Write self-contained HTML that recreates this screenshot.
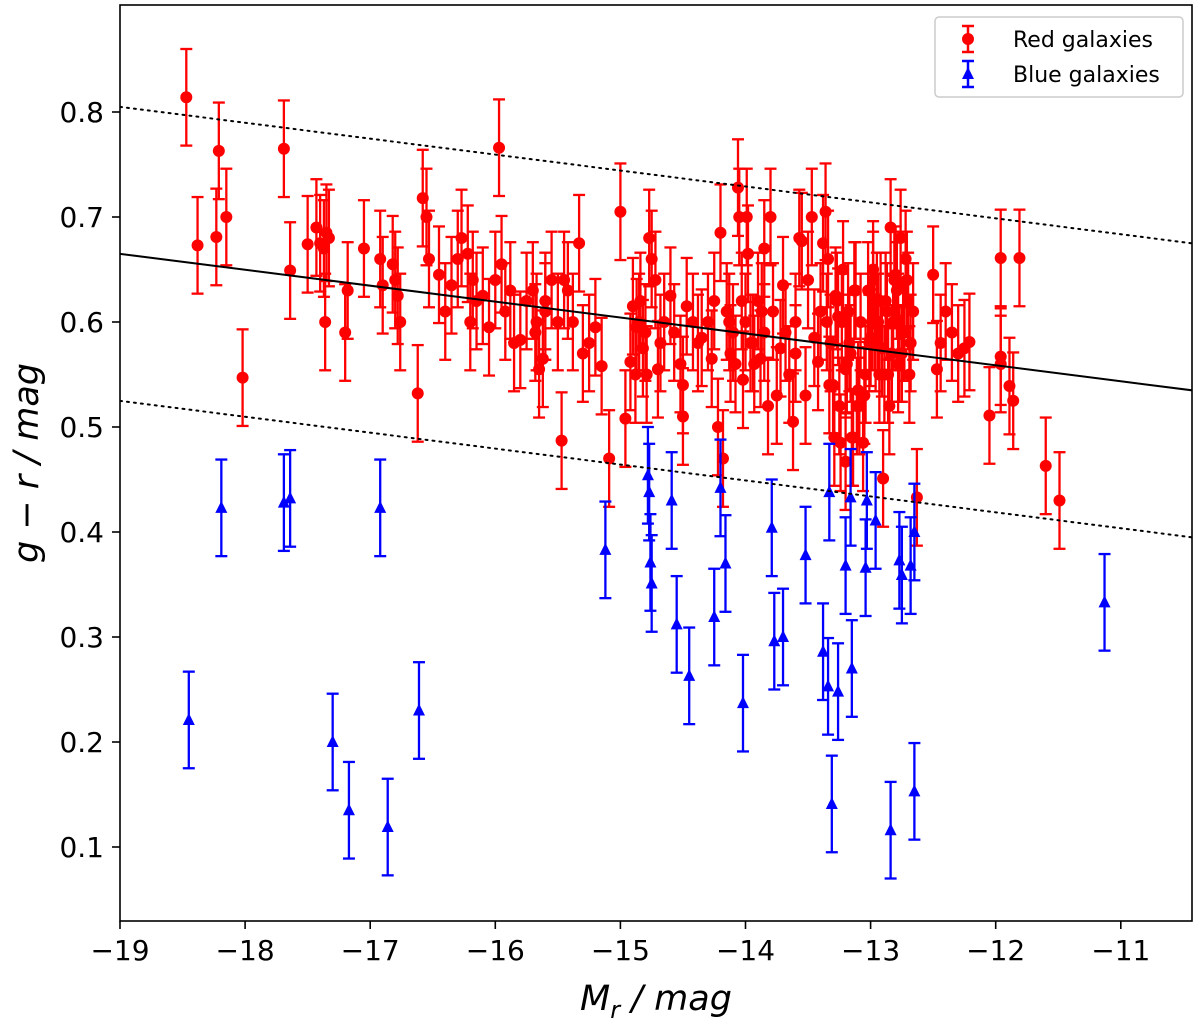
<!DOCTYPE html>
<html><head><meta charset="utf-8">
<style>
html,body{margin:0;padding:0;background:#fff;}
svg{display:block;font-family:"DejaVu Sans","Liberation Sans",sans-serif;}
</style></head>
<body>
<svg id="chart" width="1200" height="1021" viewBox="0 0 1200 1021" xmlns="http://www.w3.org/2000/svg">
<defs><clipPath id="clip"><rect x="120" y="5" width="1072" height="916"/></clipPath></defs>
<g id="marks" clip-path="url(#clip)"></g>
<rect x="120" y="5" width="1072" height="916" fill="none" stroke="#000" stroke-width="1.6"/>
<g id="axes"></g>
<text x="656" y="1010" font-size="35" text-anchor="middle" font-style="italic">M<tspan font-size="24" dy="8">r</tspan><tspan dy="-8"> / mag</tspan></text>
<text transform="translate(38,463) rotate(-90)" font-size="35" text-anchor="middle" font-style="italic">g − r / mag</text>
<g>
<rect x="935" y="17" width="248" height="80" rx="4" fill="#fff" stroke="#ccc" stroke-width="1.5"/>
<g>
<line x1="968" y1="26" x2="968" y2="52" stroke="red" stroke-width="2.5"/>
<line x1="962" y1="26" x2="974" y2="26" stroke="red" stroke-width="2.5"/>
<line x1="962" y1="52" x2="974" y2="52" stroke="red" stroke-width="2.5"/>
<circle cx="968" cy="39" r="6" fill="red"/>
<text x="1013" y="47" font-size="22">Red galaxies</text></g>
<g>
<line x1="968" y1="61" x2="968" y2="87" stroke="blue" stroke-width="2.5"/>
<line x1="962" y1="61" x2="974" y2="61" stroke="blue" stroke-width="2.5"/>
<line x1="962" y1="87" x2="974" y2="87" stroke="blue" stroke-width="2.5"/>
<polygon points="968,67 974,79 962,79" fill="blue"/>
<text x="1013" y="82" font-size="22">Blue galaxies</text></g>
</g>
</svg>
<script>
const xTicks=[-19,-18,-17,-16,-15,-14,-13,-12,-11];
const yTicks=[0.1,0.2,0.3,0.4,0.5,0.6,0.7,0.8];
const fitIntercept=0.3767, fitSlope=-0.01517, band=0.14;
const blueX=[-18.45,-18.19,-17.69,-17.64,-17.30,-17.17,-16.92,-16.86,-16.61,-15.12,-14.78,-14.77,-14.76,-14.75,-14.59,-14.55,-14.45,-14.25,-14.20,-14.16,-14.02,-13.79,-13.77,-13.70,-13.52,-13.38,-13.34,-13.33,-13.31,-13.26,-13.20,-13.16,-13.15,-13.04,-13.03,-12.96,-12.84,-12.77,-12.75,-12.68,-12.65,-12.65,-11.13];
const blueY=[0.221,0.423,0.428,0.432,0.200,0.135,0.423,0.119,0.230,0.383,0.454,0.438,0.371,0.351,0.430,0.312,0.263,0.319,0.442,0.370,0.237,0.404,0.296,0.300,0.378,0.286,0.253,0.438,0.141,0.248,0.368,0.433,0.270,0.366,0.430,0.411,0.116,0.373,0.359,0.368,0.400,0.153,0.333];
const redX=[-18.47,-18.38,-18.23,-18.21,-18.15,-18.02,-17.69,-17.64,-17.5,-17.43,-17.4,-17.37,-17.35,-17.33,-17.2,-17.18,-17.05,-16.92,-16.9,-16.82,-16.8,-16.78,-16.76,-16.62,-16.58,-16.55,-16.53,-16.45,-16.35,-16.3,-16.27,-16.22,-16.18,-16.15,-16.1,-16.0,-15.97,-15.95,-15.92,-15.88,-15.8,-15.75,-15.7,-15.67,-15.65,-15.62,-15.6,-15.55,-15.5,-15.47,-15.42,-15.38,-15.33,-15.3,-15.25,-15.2,-15.15,-15.09,-15.0,-14.96,-14.92,-14.9,-14.87,-14.85,-14.82,-14.8,-14.77,-14.72,-14.7,-14.68,-14.65,-14.6,-14.57,-14.52,-14.5,-14.47,-14.42,-14.38,-14.35,-14.3,-14.27,-14.25,-14.22,-14.2,-14.18,-14.15,-14.12,-14.1,-14.06,-14.05,-14.02,-14.0,-13.98,-13.96,-13.93,-13.9,-13.88,-13.85,-13.82,-13.8,-13.78,-13.75,-13.72,-13.7,-13.68,-13.65,-13.62,-13.6,-13.57,-13.55,-13.52,-13.5,-13.47,-13.45,-13.42,-13.4,-13.38,-13.36,-13.34,-13.32,-13.3,-13.28,-13.26,-13.24,-13.22,-13.2,-13.18,-13.16,-13.14,-13.12,-13.1,-13.08,-13.06,-13.04,-13.02,-13.0,-12.98,-12.96,-12.94,-12.92,-12.91,-12.9,-12.88,-12.86,-12.84,-12.82,-12.8,-12.78,-12.76,-12.74,-12.72,-12.7,-12.69,-12.68,-12.66,-12.63,-12.5,-12.47,-12.44,-12.4,-12.35,-12.3,-12.25,-12.21,-12.05,-11.96,-11.96,-11.96,-11.89,-11.86,-11.81,-11.6,-11.49,-13.2,-13.15,-13.05,-12.95,-12.85,-12.75,-13.85,-14.5,-15.45,-16.2,-16.05,-14.75,-13.6,-12.98,-12.78,-13.25,
-13.33,-13.29,-13.23,-13.19,-13.13,-13.09,-13.01,-12.97,-12.93,-12.87,-12.83,-12.79,-12.73,-12.71,-13.35,-13.27,-13.17,-13.11,-12.99,-12.89,-12.81,-12.77,-14.03,-13.99,-13.94,-13.87,-14.08,-14.13,-14.84,-14.79,-14.88,-15.6,-15.68,-15.85,-16.4,-17.36];
const redY=[0.814,0.673,0.681,0.763,0.700,0.547,0.765,0.649,0.674,0.690,0.675,0.67,0.685,0.68,0.59,0.63,0.67,0.66,0.635,0.655,0.64,0.625,0.60,0.532,0.718,0.70,0.66,0.645,0.635,0.66,0.68,0.665,0.64,0.62,0.625,0.64,0.766,0.655,0.61,0.63,0.583,0.62,0.63,0.60,0.555,0.565,0.62,0.64,0.60,0.487,0.63,0.60,0.675,0.57,0.58,0.595,0.558,0.470,0.705,0.508,0.562,0.615,0.595,0.60,0.575,0.59,0.68,0.64,0.555,0.58,0.6,0.625,0.59,0.56,0.54,0.615,0.6,0.58,0.585,0.60,0.565,0.62,0.50,0.685,0.47,0.61,0.57,0.59,0.728,0.70,0.545,0.6,0.665,0.58,0.56,0.62,0.565,0.59,0.52,0.70,0.61,0.53,0.575,0.635,0.59,0.55,0.505,0.6,0.68,0.677,0.53,0.64,0.70,0.585,0.562,0.61,0.675,0.705,0.66,0.58,0.54,0.625,0.605,0.485,0.65,0.555,0.61,0.57,0.49,0.63,0.535,0.60,0.485,0.55,0.63,0.585,0.64,0.58,0.6,0.62,0.575,0.451,0.62,0.55,0.69,0.60,0.645,0.56,0.68,0.59,0.66,0.62,0.55,0.58,0.61,0.433,0.645,0.555,0.58,0.61,0.59,0.57,0.575,0.581,0.511,0.661,0.560,0.567,0.539,0.525,0.661,0.463,0.430,0.467,0.490,0.53,0.62,0.52,0.57,0.67,0.51,0.64,0.60,0.595,0.66,0.57,0.65,0.60,0.52,0.54,0.49,
0.60,0.56,0.63,0.52,0.58,0.60,0.55,0.61,0.57,0.63,0.59,0.64,0.60,0.62,0.58,0.52,0.60,0.55,0.64,0.57,0.62,0.70,0.58,0.61,0.56,0.60,0.62,0.55,0.55,0.61,0.59,0.58,0.61,0.60,0.64,0.67];
const redErr=0.046, blueErr=0.046;

const X0=120,XS=125.1,YB=847,YS=1050;
function sx(v){return X0+(v+19)*XS;}
function sy(v){return YB-(v-0.1)*YS;}
const NS='http://www.w3.org/2000/svg';
function mk(tag,attrs,parent){const e=document.createElementNS(NS,tag);for(const k in attrs)e.setAttribute(k,attrs[k]);parent.appendChild(e);return e;}
const marks=document.getElementById('marks'), axes=document.getElementById('axes');

function errbar(x,y,e,col,g){
  const px=sx(x);
  mk('line',{x1:px,y1:sy(y-e),x2:px,y2:sy(y+e),stroke:col,'stroke-width':2.3},g);
  mk('line',{x1:px-6,y1:sy(y-e),x2:px+6,y2:sy(y-e),stroke:col,'stroke-width':2.3},g);
  mk('line',{x1:px-6,y1:sy(y+e),x2:px+6,y2:sy(y+e),stroke:col,'stroke-width':2.3},g);
}
redX.forEach((x,i)=>{
  const g=mk('g',{},marks);
  
  
  errbar(x,redY[i],redErr,'red',g);
  mk('circle',{cx:sx(x),cy:sy(redY[i]),r:6,fill:'red'},g);
});
blueX.forEach((x,i)=>{
  const g=mk('g',{},marks);
  
  
  errbar(x,blueY[i],blueErr,'blue',g);
  const px=sx(x),py=sy(blueY[i]);
  mk('polygon',{points:`${px},${py-7} ${px+6},${py+5} ${px-6},${py+5}`,fill:'blue'},g);
});
[[0,'fit-line',''],[band,'upper-dotted-line','2,5'],[-band,'lower-dotted-line','2,5']].forEach(([off,name,dash])=>{
  const l=mk('line',{x1:sx(-19),y1:sy(fitIntercept+fitSlope*-19+off),x2:sx(-10.4),y2:sy(fitIntercept+fitSlope*-10.4+off),stroke:'#000','stroke-width':2,'stroke-dasharray':dash,'stroke-linecap':'round'},marks);
  
  
});
xTicks.forEach(t=>{
  const px=sx(t);
  mk('line',{x1:px,y1:921,x2:px,y2:929,stroke:'#000','stroke-width':1.6},axes);
  const tx=mk('text',{x:px,y:960,'font-size':28,'text-anchor':'middle'},axes);
  tx.textContent=(t<0?'−':'')+Math.abs(t);
  
  
});
yTicks.forEach(t=>{
  const py=sy(t);
  mk('line',{x1:112,y1:py,x2:120,y2:py,stroke:'#000','stroke-width':1.6},axes);
  const tx=mk('text',{x:104,y:py+10,'font-size':28,'text-anchor':'end'},axes);
  tx.textContent=t.toFixed(1);
  
  
});
</script>
</body></html>
